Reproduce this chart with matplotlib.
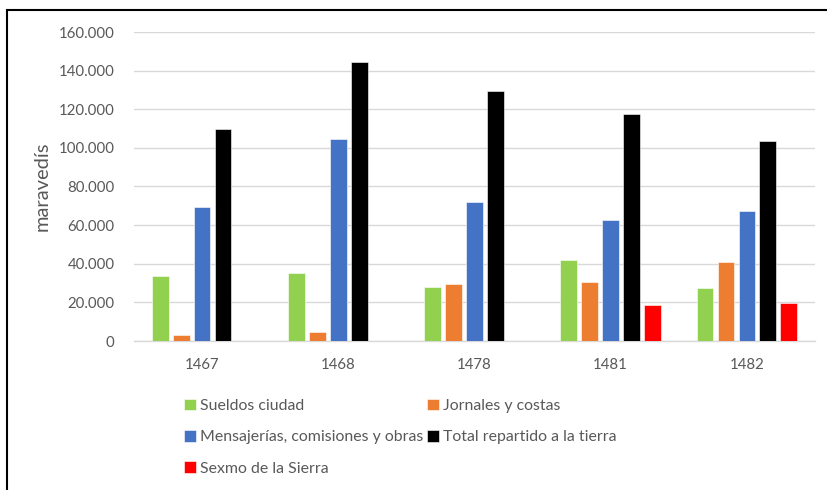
import numpy as np
import matplotlib.pyplot as plt
from matplotlib.patches import Rectangle
from matplotlib.ticker import FuncFormatter

plt.rcParams['font.family'] = ['Lato', 'DejaVu Sans']

# Gastos del concejo por año (maravedís)
years = ['1467', '1468', '1478', '1481', '1482']
sueldos = [33800, 35200, 28100, 41900, 27600]
jornales = [3300, 4500, 29300, 30700, 40900]
mensajerias = [69500, 104800, 71800, 62700, 67300]
total_tierra = [109800, 144600, 129500, 117500, 103700]
sexmo = [0, 0, 0, 18800, 19700]

series = [
    ('Sueldos ciudad', sueldos, '#92d050'),
    ('Jornales y costas', jornales, '#ed7d31'),
    ('Mensajerías, comisiones y obras', mensajerias, '#4472c4'),
    ('Total repartido a la tierra', total_tierra, '#000000'),
    ('Sexmo de la Sierra', sexmo, '#ff0000'),
]

text_col = '#595959'

fig = plt.figure(figsize=(8.28, 4.9), dpi=100)
ax = fig.add_axes([134 / 828, 149 / 490, 681 / 828, 309 / 490])

x = np.arange(len(years))
slot = 0.154
handles = {}
for i, (name, vals, col) in enumerate(series):
    vals = np.array(vals, dtype=float)
    vals[vals == 0] = np.nan
    b = ax.bar(x + (i - 2) * slot, vals, width=slot * 0.8, color=col,
               edgecolor='white', linewidth=0.4, zorder=3, label=name)
    handles[name] = b

ax.set_xlim(-0.5, len(years) - 0.5)
ax.set_ylim(0, 160000)
ax.set_yticks(np.arange(0, 160001, 20000))
ax.yaxis.set_major_formatter(FuncFormatter(lambda v, p: f'{int(v):,}'.replace(',', '.')))
ax.set_xticks(x)
ax.set_xticklabels(years)
ax.grid(axis='y', color='#d9d9d9', linewidth=1.0, zorder=0)
for s in ['top', 'right', 'left']:
    ax.spines[s].set_visible(False)
ax.spines['bottom'].set_color('#d9d9d9')
ax.spines['bottom'].set_linewidth(1.0)
ax.tick_params(length=0, labelsize=10.8, colors=text_col, pad=12)
ax.tick_params(axis='y', pad=14)
ax.set_ylabel('maravedís', fontsize=14.5, color=text_col, labelpad=6)

order = ['Sueldos ciudad', 'Mensajerías, comisiones y obras', 'Sexmo de la Sierra',
         'Jornales y costas', 'Total repartido a la tierra']
fig.legend([handles[n] for n in order], order, ncol=2, loc='upper left',
           bbox_to_anchor=(171 / 828, 1 - 386 / 490), frameon=False,
           fontsize=11.4, labelcolor=text_col, handlelength=0.75, handleheight=0.75,
           handletextpad=0.3, columnspacing=0.2, labelspacing=1.07,
           borderpad=0.3)

# marco del gráfico
fig.patches.append(Rectangle((7 / 828, -0.05), 1.0, 1 - 10 / 490 + 0.05,
                             transform=fig.transFigure, fill=False,
                             edgecolor='black', linewidth=1.5))

fig.savefig('out.png', dpi=100)
